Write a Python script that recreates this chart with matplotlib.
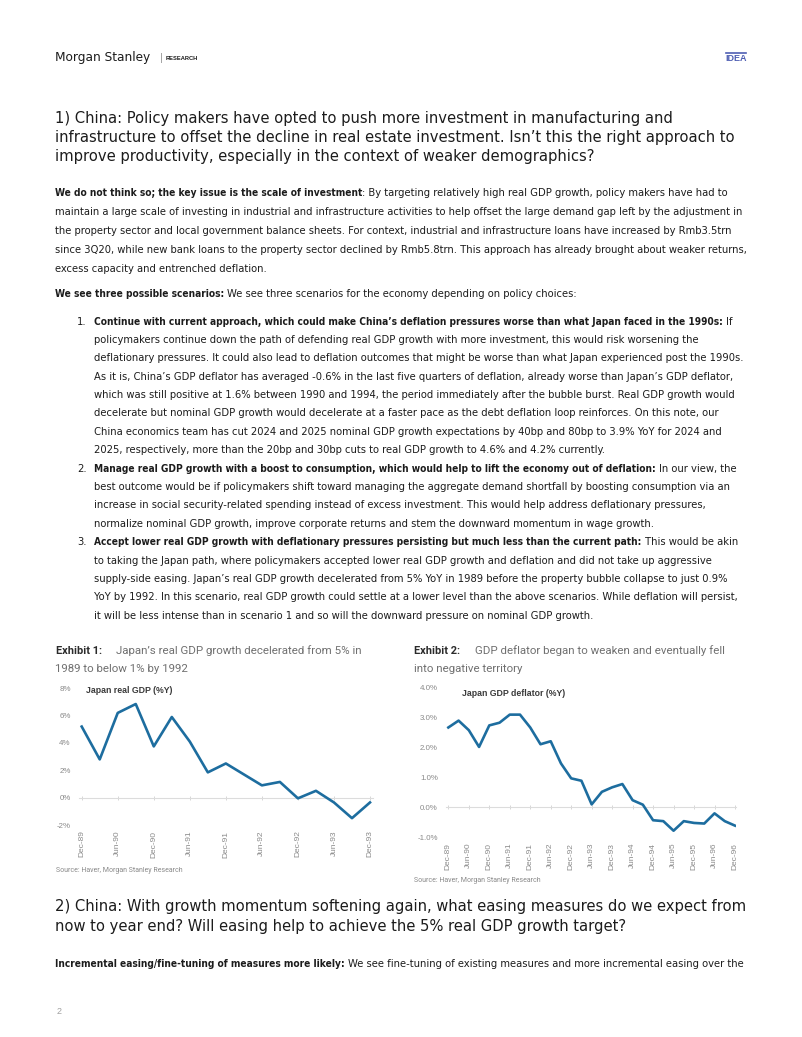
import statistics
import matplotlib
matplotlib.use("Agg")
import matplotlib.pyplot as plt
from matplotlib import font_manager as fm
from matplotlib.lines import Line2D

W, H = 802, 1037
SANS = ["Liberation Sans", "DejaVu Sans"]
LIGHT = ["Roboto", "Liberation Sans", "DejaVu Sans"]
INK, GREY, SOFT, LINE = "#1c1c1c", "#8a8a8a", "#707070", "#1d6d9f"


def narrow_files():
    """regular/bold files of a condensed sans, if one is installed"""
    found = {}
    for f in fm.fontManager.ttflist:
        nm, st = f.name.lower(), str(f.stretch).lower()
        if f.style != "normal" or "extra" in st or "ultra" in st:
            continue
        if "condensed" in st or "narrow" in nm or "condensed" in nm:
            w = f.weight if isinstance(f.weight, int) else {"bold": 700}.get(str(f.weight), 400)
            found.setdefault(f.name, {}).setdefault(w, f.fname)
    for pref in ["Liberation Sans Narrow", "DejaVu Sans", "Noto Sans", "Open Sans", "Roboto"]:
        for nm, ws in found.items():
            if nm.startswith(pref) and 400 in ws and 700 in ws:
                return ws[400], ws[700]
    return None


NARROW = narrow_files()
BODY = ["Roboto", "DejaVu Sans"]

# ---------------------------------------------------------------- data
gdp_q = ["Dec-89", "Mar-90", "Jun-90", "Sep-90", "Dec-90", "Mar-91", "Jun-91", "Sep-91",
         "Dec-91", "Mar-92", "Jun-92", "Sep-92", "Dec-92", "Mar-93", "Jun-93", "Sep-93", "Dec-93"]
real_gdp = [5.2, 2.8, 6.2, 6.85, 3.75, 5.9, 4.1, 1.85, 2.5, 1.7, 0.9, 1.15, -0.05, 0.5,
            -0.35, -1.5, -0.35]
gdp_ticks = ["Dec-89", "Jun-90", "Dec-90", "Jun-91", "Dec-91", "Jun-92", "Dec-92", "Jun-93", "Dec-93"]
gdp_yticks = [-2, 0, 2, 4, 6, 8]

defl_q = ["Dec-89", "Mar-90", "Jun-90", "Sep-90", "Dec-90", "Mar-91", "Jun-91", "Sep-91",
          "Dec-91", "Mar-92", "Jun-92", "Sep-92", "Dec-92", "Mar-93", "Jun-93", "Sep-93",
          "Dec-93", "Mar-94", "Jun-94", "Sep-94", "Dec-94", "Mar-95", "Jun-95", "Sep-95",
          "Dec-95", "Mar-96", "Jun-96", "Sep-96", "Dec-96"]
deflator = [2.67, 2.9, 2.58, 2.02, 2.74, 2.83, 3.1, 3.1, 2.67, 2.11, 2.21, 1.47, 0.97, 0.89,
            0.1, 0.52, 0.67, 0.78, 0.24, 0.09, -0.43, -0.46, -0.78, -0.46, -0.52, -0.54,
            -0.2, -0.46, -0.61]
defl_ticks = ["Dec-89", "Jun-90", "Dec-90", "Jun-91", "Dec-91", "Jun-92", "Dec-92", "Jun-93",
              "Dec-93", "Jun-94", "Dec-94", "Jun-95", "Dec-95", "Jun-96", "Dec-96"]
defl_yticks = [-1, 0, 1, 2, 3, 4]

# ---------------------------------------------------------------- text
heading1 = ["1) China: Policy makers have opted to push more investment in manufacturing and",
            "infrastructure to offset the decline in real estate investment. Isn\u2019t this the right approach to",
            "improve productivity, especially in the context of weaker demographics?"]
para1 = [[("We do not think so; the key issue is the scale of investment", True),
          (": By targeting relatively high real GDP growth, policy makers have had to", False)],
         [("maintain a large scale of investing in industrial and infrastructure activities to help offset the large demand gap left by the adjustment in", False)],
         [("the property sector and local government balance sheets. For context, industrial and infrastructure loans have increased by Rmb3.5trn", False)],
         [("since 3Q20, while new bank loans to the property sector declined by Rmb5.8trn. This approach has already brought about weaker returns,", False)],
         [("excess capacity and entrenched deflation.", False)]]
scen = [("We see three possible scenarios:", True),
        (" We see three scenarios for the economy depending on policy choices:", False)]
items = [
    [[("Continue with current approach, which could make China\u2019s deflation pressures worse than what Japan faced in the 1990s:", True), (" If", False)],
     [("policymakers continue down the path of defending real GDP growth with more investment, this would risk worsening the", False)],
     [("deflationary pressures. It could also lead to deflation outcomes that might be worse than what Japan experienced post the 1990s.", False)],
     [("As it is, China\u2019s GDP deflator has averaged -0.6% in the last five quarters of deflation, already worse than Japan\u2019s GDP deflator,", False)],
     [("which was still positive at 1.6% between 1990 and 1994, the period immediately after the bubble burst. Real GDP growth would", False)],
     [("decelerate but nominal GDP growth would decelerate at a faster pace as the debt deflation loop reinforces. On this note, our", False)],
     [("China economics team has cut 2024 and 2025 nominal GDP growth expectations by 40bp and 80bp to 3.9% YoY for 2024 and", False)],
     [("2025, respectively, more than the 20bp and 30bp cuts to real GDP growth to 4.6% and 4.2% currently.", False)]],
    [[("Manage real GDP growth with a boost to consumption, which would help to lift the economy out of deflation:", True), (" In our view, the", False)],
     [("best outcome would be if policymakers shift toward managing the aggregate demand shortfall by boosting consumption via an", False)],
     [("increase in social security-related spending instead of excess investment. This would help address deflationary pressures,", False)],
     [("normalize nominal GDP growth, improve corporate returns and stem the downward momentum in wage growth.", False)]],
    [[("Accept lower real GDP growth with deflationary pressures persisting but much less than the current path:", True), (" This would be akin", False)],
     [("to taking the Japan path, where policymakers accepted lower real GDP growth and deflation and did not take up aggressive", False)],
     [("supply-side easing. Japan\u2019s real GDP growth decelerated from 5% YoY in 1989 before the property bubble collapse to just 0.9%", False)],
     [("YoY by 1992. In this scenario, real GDP growth could settle at a lower level than the above scenarios. While deflation will persist,", False)],
     [("it will be less intense than in scenario 1 and so will the downward pressure on nominal GDP growth.", False)]]]
item_rights = [[745, 700, 744, 740, 731, 718, 731, 621], [745, 728, 718, 657], [742, 725, 744, 740, 597]]
heading2 = ["2) China: With growth momentum softening again, what easing measures do we expect from",
            "now to year end? Will easing help to achieve the 5% real GDP growth target?"]
last = [("Incremental easing/fine-tuning of measures more likely:", True),
        (" We see fine-tuning of existing measures and more incremental easing over the", False)]

fig = plt.figure(figsize=(W / 100, H / 100), dpi=100)
fig.patch.set_facecolor("white")
R = fig.canvas.get_renderer()
pending = []


def wid(t):
    return t.get_window_extent(R).width


def space_of(t):
    a = fig.text(0, 0, "x x", fontproperties=t.get_fontproperties())
    b = fig.text(0, 0, "xx", fontproperties=t.get_fontproperties())
    w = wid(a) - wid(b)
    a.remove(); b.remove()
    return w


def put(x, y, runs, size, right=None, group="body", family="narrow", color=INK, weight="normal"):
    arts = []
    for s, bold in runs:
        if family == "narrow" and NARROW:
            kw = dict(fontproperties=fm.FontProperties(fname=NARROW[1 if bold else 0], size=size))
        else:
            fam = BODY if family == "narrow" else family
            kw = dict(fontsize=size, family=fam, fontweight="bold" if bold else weight)
        t = fig.text(x / W, 1 - y / H, s.strip(), color=color, va="center", ha="left", **kw)
        arts.append((t, s.startswith(" "), bold))
    pending.append(dict(x=x, arts=arts, size=size, right=right, group=group))


def layout(p, size, bscale=1.0):
    cx = p["x"]
    for t, gap, bold in p["arts"]:
        t.set_fontsize(size * (bscale if bold else 1.0))
        if gap:
            cx += space_of(t)
        t.set_x(cx / W)
        cx += wid(t)
    return cx - p["x"]


def mixed(p):
    return len({b for _, _, b in p["arts"]}) > 1


# header
put(55, 58, [("Morgan Stanley", False)], 10, right=150, group="logo")
fig.text(160 / W, 1 - 58 / H, "|", fontsize=8, color="#9a9a9a", family=SANS, va="center")
put(166, 58, [("RESEARCH", True)], 4.5, right=198, group="res", family=SANS)
fig.text(736 / W, 1 - 58.5 / H, "IDEA", fontsize=6.5, color="#4f5fb3", family=SANS,
         fontweight="bold", va="center", ha="center")
fig.add_artist(Line2D([726 / W, 746 / W], [1 - 52.5 / H] * 2, color="#4f5fb3", lw=1.2))

for i, (s, r) in enumerate(zip(heading1, [665, 738, 593])):
    put(55, 119 + i * 18.5, [(s, False)], 12.5, right=r, group="head")
for i, (runs, r) in enumerate(zip(para1, [737, 742, 730, 745, 262])):
    put(55, 193 + i * 18.9, runs, 9, right=r)
put(55, 294, scen, 9, right=575)

num_y = []
k = 0
for runs_list, rights in zip(items, item_rights):
    num_y.append(321.5 + k * 18.4)
    for runs, r in zip(runs_list, rights):
        put(94.5, 321.5 + k * 18.4, runs, 9, right=r)
        k += 1

for i, (s, r) in enumerate(zip(heading2, [740, 626])):
    put(55, 907 + i * 19, [(s, False)], 12.5, right=r, group="head")
put(55, 964, last, 9, right=745)

# exhibit titles
put(56, 650.5, [("Exhibit 1:", True)], 8, right=102, group="exb", family=LIGHT, color="#2b2b2b")
put(414, 650.5, [("Exhibit 2:", True)], 8, right=460, group="exb", family=LIGHT, color="#2b2b2b")
put(116, 650.5, [("Japan\u2019s real GDP growth decelerated from 5% in", False)], 8, right=363,
    group="ext", family=LIGHT, color=SOFT)
put(55, 669, [("1989 to below 1% by 1992", False)], 8, right=191,
    group="ext", family=LIGHT, color=SOFT)
put(475, 650.5, [("GDP deflator began to weaken and eventually fell", False)], 8, right=724,
    group="ext", family=LIGHT, color=SOFT)
put(414, 669, [("into negative territory", False)], 8, right=522,
    group="ext", family=LIGHT, color=SOFT)

put(86, 690.5, [("Japan real GDP (%Y)", True)], 6.5, right=176, group="ct", family=SANS, color="#3a3a3a")
put(462, 694, [("Japan GDP deflator (%Y)", True)], 6.5, right=562, group="ct", family=SANS, color="#3a3a3a")
put(56, 871, [("Source: Haver, Morgan Stanley Research", False)], 5, right=184, group="src",
    family=LIGHT, color=GREY)
put(414, 880, [("Source: Haver, Morgan Stanley Research", False)], 5, right=542, group="src",
    family=LIGHT, color=GREY)

fig.text(57 / W, 1 - 1011 / H, "2", fontsize=6.5, color="#a0a0a0", family=SANS, va="center")

factor = {}
for g in dict.fromkeys(p["group"] for p in pending):
    grp = [p for p in pending if p["group"] == g]
    plain = [p for p in grp if p["right"] and not mixed(p)] or [p for p in grp if p["right"]]
    k = min(max(statistics.median([(p["right"] - p["x"]) / layout(p, p["size"]) for p in plain]), 0.6), 1.5)
    factor[g] = k
    # bold runs in the narrow face come out wider than the original: shrink them to fit
    bs = []
    for p in grp:
        if p["right"] and mixed(p):
            full = layout(p, p["size"] * k)
            bw = sum(wid(t) for t, _, b in p["arts"] if b)
            bs.append(1 + (p["right"] - p["x"] - full) / bw)
    bscale = min(max(statistics.median(bs), 0.85), 1.05) if bs else 1.0
    for p in grp:
        layout(p, p["size"] * k, bscale)

for n, y in enumerate(num_y, 1):
    put(87, y, [(f"{n}.", False)], 9, group="num")
    t = pending[-1]["arts"][0][0]
    t.set_fontsize(9 * factor["body"]); t.set_ha("right")


# ---------------------------------------------------------------- charts
def chart(left, top, right, bottom, cats, vals, ticks, xlim, ylim, yticks, fmt):
    ax = fig.add_axes([left / W, 1 - bottom / H, (right - left) / W, (bottom - top) / H])
    ax.patch.set_alpha(0)
    ax.plot(range(len(cats)), vals, color=LINE, lw=1.9, solid_joinstyle="round", zorder=3)
    ax.set_xlim(*xlim); ax.set_ylim(*ylim)
    pos = [cats.index(t) for t in ticks]
    ax.set_xticks(pos); ax.set_xticklabels(ticks, rotation=90, va="top", ha="center")
    ax.set_yticks(yticks); ax.set_yticklabels([fmt.format(v) for v in yticks])
    ax.tick_params(axis="both", length=0, labelsize=6, labelcolor=GREY)
    ax.tick_params(axis="x", pad=4); ax.tick_params(axis="y", labelsize=5.7, pad=6)
    for lab in ax.get_xticklabels() + ax.get_yticklabels():
        lab.set_family(SANS)
    for s in ax.spines.values():
        s.set_visible(False)
    zero = ax.secondary_xaxis((0 - ylim[0]) / (ylim[1] - ylim[0]))
    zero.spines["bottom"].set_color("#dcdcdc"); zero.spines["bottom"].set_linewidth(0.8)
    zero.set_xticks(pos)
    zero.tick_params(direction="inout", length=3, width=0.6, color="#d0d0d0", labelbottom=False)
    return ax


chart(79, 688.3, 372.7, 825, gdp_q, real_gdp, gdp_ticks, (-0.15, 16.15), (-2, 8), gdp_yticks, "{:d}%")
chart(446.3, 687.7, 735.8, 837.3, defl_q, deflator, defl_ticks, (-0.2, 28.08), (-1, 4), defl_yticks, "{:.1f}%")

fig.savefig("out.png", dpi=100, facecolor="white")
